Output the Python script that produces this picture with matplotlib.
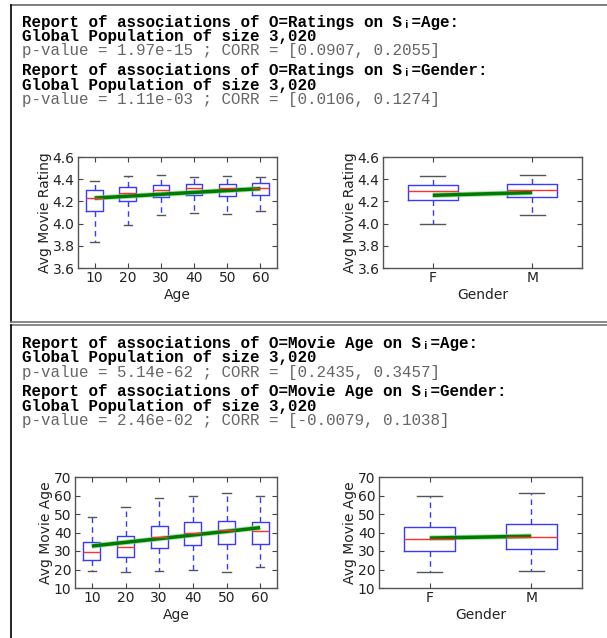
import matplotlib
matplotlib.use("Agg")
import matplotlib.pyplot as plt
from matplotlib.lines import Line2D

# ---- data ----
age_groups = ["10", "20", "30", "40", "50", "60"]
genders = ["F", "M"]

# box stats: (lower whisker, q1, median, q3, upper whisker)
rating_age_lo = [3.83, 3.99, 4.08, 4.10, 4.09, 4.11]
rating_age_q1 = [4.11, 4.20, 4.24, 4.26, 4.25, 4.26]
rating_age_med = [4.23, 4.28, 4.30, 4.32, 4.32, 4.32]
rating_age_q3 = [4.30, 4.33, 4.35, 4.36, 4.36, 4.37]
rating_age_hi = [4.38, 4.43, 4.44, 4.42, 4.43, 4.42]
rating_age_fit = [4.23, 4.315]

rating_gen_lo = [4.00, 4.08]
rating_gen_q1 = [4.21, 4.24]
rating_gen_med = [4.29, 4.30]
rating_gen_q3 = [4.35, 4.36]
rating_gen_hi = [4.43, 4.44]
rating_gen_fit = [4.255, 4.28]

mage_age_lo = [19.2, 18.8, 19.4, 19.9, 18.6, 21.4]
mage_age_q1 = [25.0, 26.9, 31.6, 33.4, 34.0, 34.0]
mage_age_med = [29.6, 32.2, 37.6, 39.9, 41.4, 41.0]
mage_age_q3 = [34.7, 38.1, 43.3, 45.5, 46.4, 45.7]
mage_age_hi = [48.6, 53.6, 58.6, 59.5, 61.4, 59.5]
mage_age_fit = [32.7, 42.6]

mage_gen_lo = [18.6, 19.0]
mage_gen_q1 = [30.0, 31.3]
mage_gen_med = [36.7, 37.7]
mage_gen_q3 = [43.0, 44.4]
mage_gen_hi = [59.9, 61.5]
mage_gen_fit = [37.0, 38.0]

report_heads = [
    "Report of associations of O=Ratings on S\u1d62=Age:",
    "Report of associations of O=Ratings on S\u1d62=Gender:",
    "Report of associations of O=Movie Age on S\u1d62=Age:",
    "Report of associations of O=Movie Age on S\u1d62=Gender:",
]
population = "Global Population of size 3,020"
report_stats = [
    "p-value = 1.97e-15 ; CORR = [0.0907, 0.2055]",
    "p-value = 1.11e-03 ; CORR = [0.0106, 0.1274]",
    "p-value = 5.14e-62 ; CORR = [0.2435, 0.3457]",
    "p-value = 2.46e-02 ; CORR = [-0.0079, 0.1038]",
]

W, H = 607, 638
fig = plt.figure(figsize=(W / 100, H / 100), dpi=100)


def px_axes(l, t, r, b):
    return fig.add_axes([l / W, 1 - b / H, (r - l) / W, (b - t) / H])


def boxpanel(ax, labels, lo, q1, med, q3, hi, fit, ylim, yticks, fmt, ylabel, xlabel):
    stats = []
    for i, lab in enumerate(labels):
        stats.append(dict(label=lab, whislo=lo[i], q1=q1[i], med=med[i],
                          q3=q3[i], whishi=hi[i], fliers=[]))
    ax.bxp(stats, widths=0.5, showfliers=False,
           boxprops=dict(color="#3a3aff", lw=1.0),
           whiskerprops=dict(color="#3a3aff", lw=1.0, ls=(0, (4, 3))),
           capprops=dict(color="#555555", lw=1.0),
           medianprops=dict(color="#ff3030", lw=1.0))
    xs = [1, len(labels)]
    ax.plot(xs, fit, color="#7fd67f", lw=3.8, alpha=0.7, solid_capstyle="butt")
    ax.plot(xs, fit, color="#007a00", lw=2.5, solid_capstyle="butt")
    ax.set_xlim(0.5, len(labels) + 0.5)
    ax.set_ylim(*ylim)
    ax.set_yticks(yticks)
    ax.set_yticklabels([fmt % v for v in yticks])
    ax.tick_params(direction="in", top=True, right=True, length=3.5,
                   width=0.8, color="#444444", labelsize=10, pad=2.5,
                   labelcolor="#222222")
    for sp in ax.spines.values():
        sp.set_color("#555555")
        sp.set_linewidth(1.0)
    ax.set_ylabel(ylabel, fontsize=10, labelpad=0.3, color="#222222")
    ax.set_xlabel(xlabel, fontsize=10, labelpad=1.5, color="#222222")


r_ticks = [3.6, 3.8, 4.0, 4.2, 4.4, 4.6]
m_ticks = [10, 20, 30, 40, 50, 60, 70]

ax1 = px_axes(78, 157, 277, 268)
boxpanel(ax1, age_groups, rating_age_lo, rating_age_q1, rating_age_med,
         rating_age_q3, rating_age_hi, rating_age_fit, (3.6, 4.6), r_ticks,
         "%.1f", "Avg Movie Rating", "Age")
ax2 = px_axes(383, 157, 582, 268)
boxpanel(ax2, genders, rating_gen_lo, rating_gen_q1, rating_gen_med,
         rating_gen_q3, rating_gen_hi, rating_gen_fit, (3.6, 4.6), r_ticks,
         "%.1f", "Avg Movie Rating", "Gender")
ax3 = px_axes(75, 477, 277, 588)
boxpanel(ax3, age_groups, mage_age_lo, mage_age_q1, mage_age_med,
         mage_age_q3, mage_age_hi, mage_age_fit, (10, 70), m_ticks,
         "%d", "Avg Movie Age", "Age")
ax4 = px_axes(379, 477, 582, 588)
boxpanel(ax4, genders, mage_gen_lo, mage_gen_q1, mage_gen_med,
         mage_gen_q3, mage_gen_hi, mage_gen_fit, (10, 70), m_ticks,
         "%d", "Avg Movie Age", "Gender")

# report texts, one line per text, placed on baselines (pixels from top)
mono = ["Liberation Mono", "DejaVu Sans"]
baselines = [[27.5, 41.5, 55.5], [75.5, 90, 104],
             [348, 362, 376.5], [396, 410.5, 424.5]]
for head, stat, ys in zip(report_heads, report_stats, baselines):
    fig.text(22 / W, 1 - ys[0] / H, head, family=mono, fontsize=11.4,
             weight="bold", color="black", va="baseline")
    fig.text(22 / W, 1 - ys[1] / H, population, family=mono, fontsize=11.4,
             weight="bold", color="black", va="baseline")
    fig.text(22 / W, 1 - ys[2] / H, stat, family=mono, fontsize=11.4,
             color="#666666", va="baseline")

# panel frames
def hline(y, color):
    fig.add_artist(Line2D([11 / W, 1], [1 - y / H] * 2, color=color, lw=1.2))


def vline(y0, y1):
    fig.add_artist(Line2D([11 / W] * 2, [1 - y0 / H, 1 - y1 / H], color="black", lw=1.2))


hline(5, "#666666")
vline(5, 322)
hline(322, "#777777")
hline(325, "#777777")
vline(325, 640)

fig.savefig("out.png", dpi=100)
